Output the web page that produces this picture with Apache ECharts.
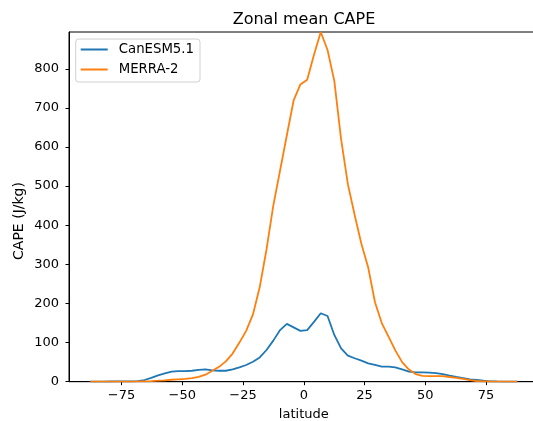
<!DOCTYPE html>
<html>
<head>
<meta charset="utf-8">
<script src="https://cdn.jsdelivr.net/npm/echarts@6/dist/echarts.min.js"></script>
<style>html,body{margin:0;padding:0;background:#fff;overflow:hidden}#c{width:533px;height:421px}</style>
</head>
<body>
<div id="c"></div>
<script>
const latitudes = [-87.86, -85.10, -82.31, -79.53, -76.74, -73.95, -71.16, -68.37, -65.58, -62.79, -60.00, -57.21, -54.42, -51.63, -48.84, -46.05, -43.26, -40.47, -37.67, -34.88, -32.09, -29.30, -26.51, -23.72, -20.93, -18.14, -15.35, -12.56, -9.77, -6.98, -4.19, -1.40, 1.40, 4.19, 6.98, 9.77, 12.56, 15.35, 18.14, 20.93, 23.72, 26.51, 29.30, 32.09, 34.88, 37.67, 40.47, 43.26, 46.05, 48.84, 51.63, 54.42, 57.21, 60.00, 62.79, 65.58, 68.37, 71.16, 73.95, 76.74, 79.53, 82.31, 85.10, 87.86];
const canesm = [0.3, 0.3, 0.4, 0.5, 0.6, 0.8, 1, 1.7, 4.3, 10, 16, 21, 25.6, 27, 27, 28, 30, 31.6, 29, 28, 28, 31.6, 36.7, 42.7, 51, 62, 81, 105, 132, 147.7, 139, 130, 132, 153, 175, 168, 119.5, 85, 66.6, 60, 54, 47, 42.7, 38.4, 38.4, 36.7, 31.6, 25.6, 24, 24, 23, 22, 19.6, 15.4, 12, 9.4, 6, 4.3, 2.6, 1, 0.6, 0.4, 0.3, 0.3];
const merra = [0.2, 0.2, 0.2, 0.2, 0.3, 0.3, 0.4, 0.6, 1, 1.7, 2.5, 3.5, 5, 6, 7, 9, 12.5, 18, 28, 38, 52, 72, 100, 130, 172, 242, 338, 450, 540, 630, 719, 760, 772, 836, 894, 848, 769, 620, 505, 426, 352, 292, 203, 150, 115, 80, 50, 31, 19.5, 15, 14.5, 14.5, 14, 12, 10, 7, 4, 1.8, 0.8, 0.5, 0.4, 0.3, 0.3, 0.3];
const xTicks = [-75, -50, -25, 0, 25, 50, 75];
const yTicks = [0, 100, 200, 300, 400, 500, 600, 700, 800];
const seriesNames = ['CanESM5.1', 'MERRA-2'];

const FONT = 'DejaVu Sans';
const xmin = latitudes[0] - 0.05 * (latitudes[latitudes.length - 1] - latitudes[0]);
const xmax = latitudes[latitudes.length - 1] + 0.05 * (latitudes[latitudes.length - 1] - latitudes[0]);
const ymax = Math.max(...merra);
const pairs = (vals) => latitudes.map((l, i) => [l, vals[i]]);
const fmt = (v) => String(v).replace('-', '\u2212');

const chart = echarts.init(document.getElementById('c'), null, {renderer: 'canvas'});
chart.setOption({
  animation: false,
  backgroundColor: '#fff',
  title: {
    text: 'Zonal mean CAPE', left: 299, top: 7, textAlign: 'center',
    textStyle: {fontFamily: FONT, fontSize: 16, fontWeight: 'normal', color: '#000'}
  },
  legend: {
    data: seriesNames, orient: 'vertical', left: 75.7, top: 39,
    icon: 'rect', itemWidth: 27, itemHeight: 2, itemGap: 5,
    padding: [3, 6, 5, 5],
    backgroundColor: 'rgba(255,255,255,0.8)', borderColor: '#d0d0d0', borderWidth: 1, borderRadius: 3,
    textStyle: {fontFamily: FONT, fontSize: 13.3, color: '#000', lineHeight: 15, padding: [0, 0, 0, 6]}
  },
  graphic: [{
    type: 'text', x: 19, y: 221, rotation: Math.PI / 2,
    style: {text: 'CAPE (J/kg)', font: 'normal 14px "DejaVu Sans"', fill: '#000', textAlign: 'center', textVerticalAlign: 'middle'}
  }],
  grid: {left: 69, top: 32, bottom: 39.3, right: -5.6, outerBoundsMode: 'none', containLabel: false,
         show: true, borderColor: '#000', borderWidth: 1, backgroundColor: 'transparent'},
  xAxis: {
    type: 'value', min: xmin, max: xmax,
    name: 'latitude', nameLocation: 'middle', nameGap: 26,
    nameTextStyle: {fontFamily: FONT, fontSize: 13, color: '#000'},
    axisLine: {show: true, onZero: false, lineStyle: {color: '#000', width: 1}},
    axisTick: {show: true, inside: false, length: 3.5, lineStyle: {color: '#000'}, customValues: xTicks},
    axisLabel: {fontFamily: FONT, fontSize: 13, color: '#000', margin: 7, customValues: xTicks, formatter: fmt},
    splitLine: {show: false}
  },
  yAxis: {
    type: 'value', min: 0, max: ymax,
    axisLine: {show: true, onZero: false, lineStyle: {color: '#000', width: 1}},
    axisTick: {show: true, inside: false, length: 3.5, lineStyle: {color: '#000'}, customValues: yTicks},
    axisLabel: {fontFamily: FONT, fontSize: 13, color: '#000', margin: 10, customValues: yTicks},
    splitLine: {show: false}
  },
  series: [
    {name: seriesNames[0], type: 'line', data: pairs(canesm), showSymbol: false, symbol: 'none',
     lineStyle: {color: '#1f77b4', width: 1.8}, itemStyle: {color: '#1f77b4'}, z: 2},
    {name: seriesNames[1], type: 'line', data: pairs(merra), showSymbol: false, symbol: 'none',
     lineStyle: {color: '#ff7f0e', width: 1.8}, itemStyle: {color: '#ff7f0e'}, z: 3}
  ]
});
</script>
</body>
</html>
